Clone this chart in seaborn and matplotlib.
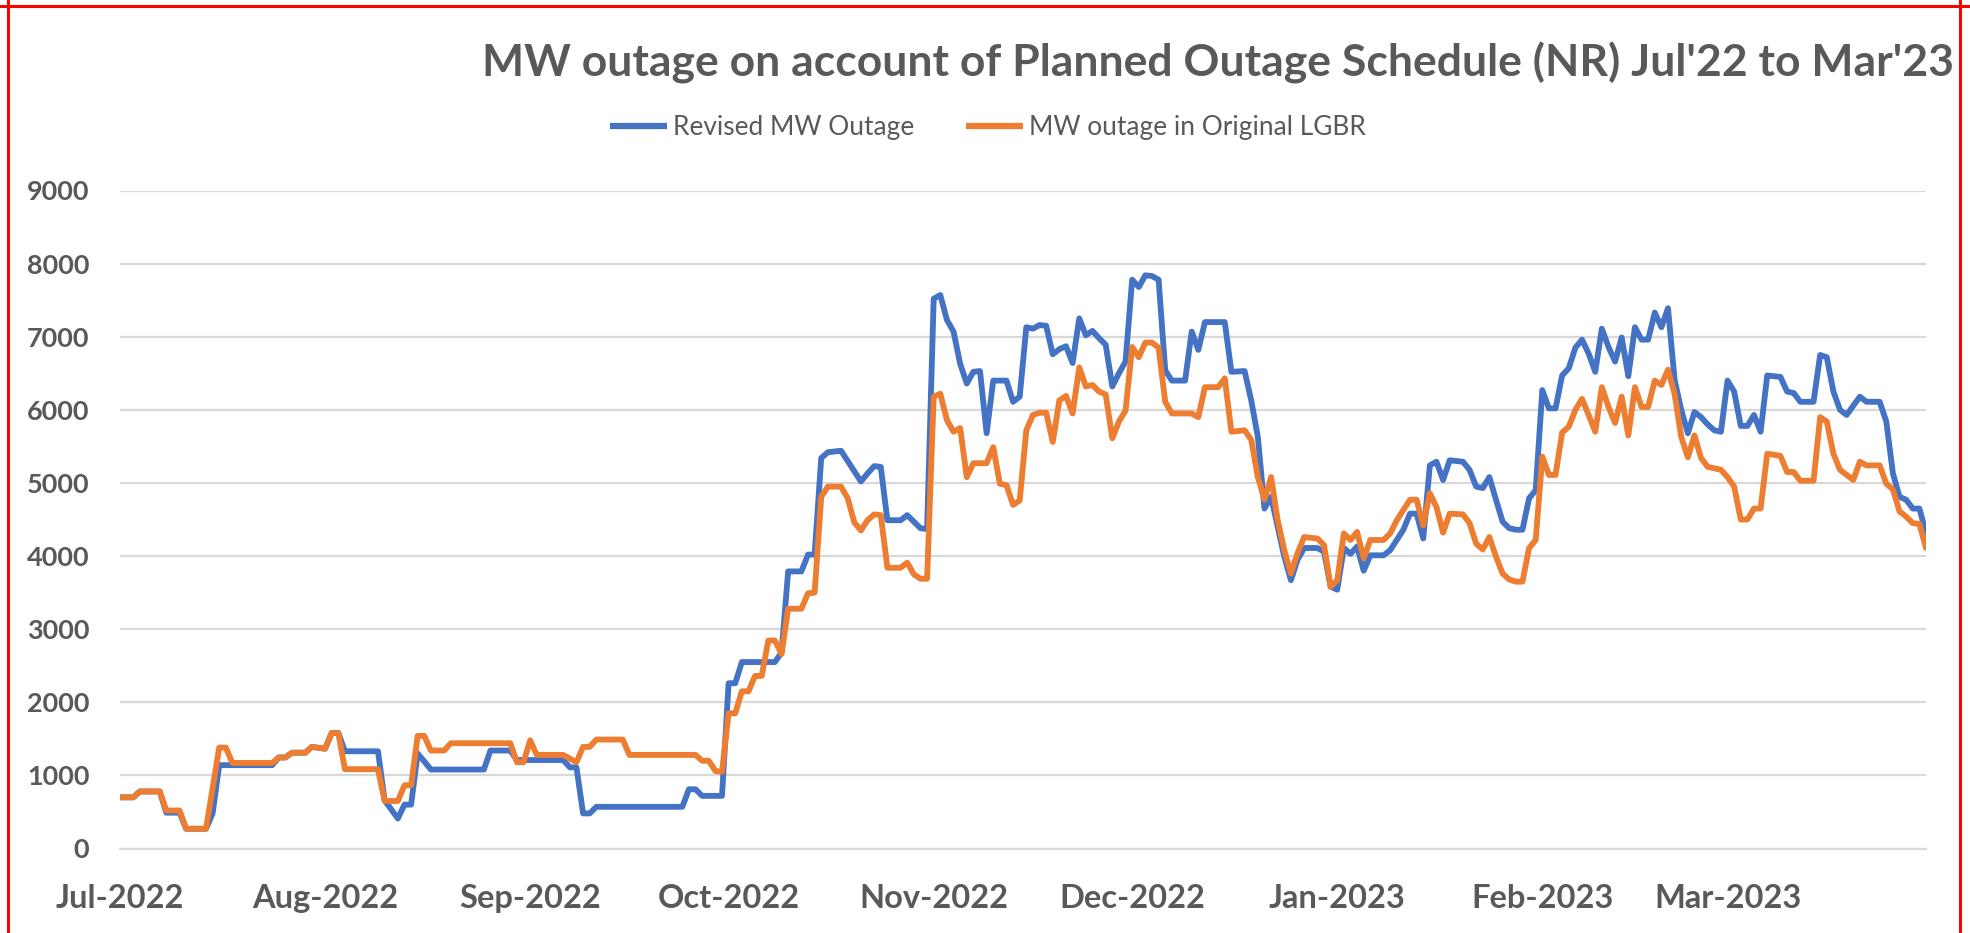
import numpy as np
import pandas as pd
import matplotlib
matplotlib.use("Agg")
import matplotlib.pyplot as plt
import seaborn as sns
from matplotlib.lines import Line2D

# ---------------- data ----------------
start_date = "2022-07-01"
series_names = ["Revised MW Outage", "MW outage in Original LGBR"]
series_colors = ["#4472C4", "#ED7D31"]

rev_day = [0, 2, 3, 6, 7, 9, 10, 13, 14, 15, 23, 24, 25, 26, 28, 29, 31, 32, 33, 34,
           39, 40, 42, 43, 44, 45, 47, 55, 56, 59, 60, 67, 68, 69, 70, 71, 72, 85, 86, 87,
           88, 91, 92, 93, 94, 99, 100, 101, 103, 104, 105, 106, 107, 109, 112, 113, 114, 115, 116, 118,
           119, 121, 122, 123, 124, 125, 126, 127, 128, 129, 130, 131, 132, 134, 135, 136, 137, 138, 139, 140,
           141, 142, 143, 144, 145, 146, 147, 148, 149, 150, 151, 152, 153, 154, 155, 156, 157, 158, 159, 161,
           162, 163, 164, 167, 168, 170, 171, 172, 173, 174, 175, 176, 177, 178, 179, 181, 182, 183, 184, 185,
           186, 187, 188, 189, 191, 192, 193, 194, 195, 196, 197, 198, 199, 200, 201, 203, 204, 205, 206, 207,
           208, 209, 210, 211, 212, 213, 214, 215, 216, 217, 218, 219, 220, 221, 222, 223, 224, 225, 226, 227,
           228, 229, 230, 231, 232, 233, 234, 235, 236, 237, 238, 239, 240, 241, 242, 243, 244, 245, 246, 247,
           248, 249, 251, 252, 253, 254, 256, 257, 258, 259, 260, 261, 263, 264, 266, 267, 268, 269, 270, 271,
           272, 273]
rev_mw = [700, 700, 780, 780, 490, 490, 270, 270, 480, 1140, 1140, 1245, 1245, 1310, 1310, 1390, 1365, 1580, 1580, 1330,
          1330, 660, 410, 600, 600, 1300, 1080, 1080, 1340, 1340, 1210, 1210, 1110, 1110, 480, 480, 570, 570, 810, 810,
          720, 720, 2260, 2260, 2550, 2550, 2680, 3790, 3790, 4020, 4020, 5340, 5420, 5440, 5020, 5130, 5230, 5220, 4490, 4490,
          4560, 4380, 4370, 7520, 7570, 7230, 7070, 6630, 6360, 6520, 6530, 5680, 6400, 6400, 6110, 6180, 7130, 7110, 7160, 7150,
          6760, 6830, 6870, 6640, 7250, 7020, 7080, 6980, 6890, 6320, 6500, 6660, 7780, 7680, 7840, 7830, 7780, 6540, 6400, 6400,
          7070, 6820, 7200, 7200, 6520, 6530, 6130, 5630, 4650, 4810, 4400, 3990, 3670, 3950, 4110, 4110, 4060, 3580, 3540, 4110,
          4030, 4130, 3800, 4010, 4010, 4080, 4220, 4360, 4580, 4580, 4240, 5240, 5290, 5040, 5310, 5290, 5180, 4950, 4930, 5080,
          4770, 4470, 4380, 4360, 4360, 4790, 4900, 6270, 6020, 6020, 6470, 6570, 6850, 6960, 6770, 6520, 7110, 6860, 6660, 6990,
          6460, 7130, 6960, 6960, 7330, 7130, 7390, 6410, 6000, 5680, 5970, 5900, 5800, 5720, 5700, 6400, 6250, 5780, 5780, 5930,
          5700, 6470, 6450, 6250, 6230, 6110, 6110, 6750, 6720, 6250, 6000, 5930, 6180, 6110, 6110, 5840, 5130, 4810, 4770, 4650,
          4650, 4320]

org_day = [0, 2, 3, 6, 7, 9, 10, 13, 15, 16, 17, 23, 24, 25, 26, 28, 29, 31, 32, 33,
           34, 39, 40, 42, 43, 44, 45, 46, 47, 49, 50, 59, 60, 61, 62, 63, 67, 69, 70, 71,
           72, 76, 77, 87, 88, 89, 90, 91, 92, 93, 94, 95, 96, 97, 98, 99, 100, 101, 103, 104,
           105, 106, 107, 109, 110, 111, 112, 113, 114, 115, 116, 118, 119, 120, 121, 122, 123, 124, 125, 126,
           127, 128, 129, 131, 132, 133, 134, 135, 136, 137, 138, 139, 140, 141, 142, 143, 144, 145, 146, 147,
           148, 149, 150, 151, 152, 153, 154, 155, 156, 157, 158, 159, 162, 163, 164, 166, 167, 168, 170, 171,
           172, 173, 174, 175, 176, 177, 178, 179, 181, 182, 183, 184, 185, 186, 187, 188, 189, 191, 192, 193,
           195, 196, 197, 198, 199, 200, 201, 203, 204, 205, 206, 207, 208, 209, 210, 211, 212, 213, 214, 215,
           216, 217, 218, 219, 220, 221, 222, 223, 224, 225, 226, 227, 228, 229, 230, 231, 232, 233, 234, 235,
           236, 237, 238, 239, 240, 241, 242, 243, 244, 245, 246, 247, 248, 249, 251, 252, 253, 254, 256, 257,
           258, 259, 260, 262, 263, 264, 266, 267, 268, 269, 270, 271, 272, 273]
org_mw = [700, 700, 780, 780, 520, 520, 270, 270, 1380, 1380, 1170, 1170, 1245, 1245, 1310, 1310, 1390, 1365, 1580, 1580,
          1085, 1085, 650, 650, 865, 865, 1540, 1540, 1340, 1340, 1440, 1440, 1180, 1180, 1480, 1280, 1280, 1180, 1390, 1390,
          1490, 1490, 1280, 1280, 1200, 1200, 1060, 1050, 1850, 1850, 2150, 2150, 2360, 2360, 2845, 2845, 2660, 3280, 3280, 3490,
          3500, 4810, 4950, 4950, 4790, 4460, 4350, 4490, 4570, 4560, 3840, 3840, 3910, 3750, 3690, 3690, 6180, 6220, 5860, 5700,
          5750, 5080, 5270, 5270, 5490, 4990, 4970, 4700, 4760, 5720, 5930, 5960, 5960, 5560, 6130, 6190, 5950, 6580, 6320, 6340,
          6250, 6210, 5610, 5840, 5990, 6860, 6720, 6920, 6920, 6850, 6110, 5950, 5950, 5900, 6310, 6310, 6430, 5700, 5720, 5590,
          5080, 4770, 5080, 4490, 4080, 3760, 4040, 4260, 4240, 4150, 3580, 3670, 4310, 4220, 4330, 3970, 4220, 4220, 4310, 4490,
          4770, 4770, 4420, 4860, 4670, 4320, 4580, 4570, 4450, 4170, 4090, 4260, 3990, 3760, 3680, 3650, 3650, 4110, 4220, 5360,
          5110, 5110, 5690, 5770, 6000, 6150, 5930, 5700, 6310, 6040, 5820, 6180, 5650, 6310, 6040, 6040, 6400, 6340, 6550, 6220,
          5630, 5350, 5650, 5340, 5220, 5200, 5180, 5080, 4950, 4500, 4500, 4650, 4650, 5400, 5370, 5150, 5150, 5030, 5030, 5900,
          5840, 5400, 5180, 5040, 5290, 5240, 5240, 4990, 4910, 4610, 4540, 4450, 4440, 4110]

tick_dates = ["2022-07-01", "2022-08-01", "2022-09-01", "2022-10-01", "2022-11-01",
              "2022-12-01", "2023-01-01", "2023-02-01", "2023-03-01"]
tick_labels = ["Jul-2022", "Aug-2022", "Sep-2022", "Oct-2022", "Nov-2022",
               "Dec-2022", "Jan-2023", "Feb-2023", "Mar-2023"]
y_ticks = [0, 1000, 2000, 3000, 4000, 5000, 6000, 7000, 8000, 9000]
title_text = "MW outage on account of Planned Outage Schedule (NR) Jul'22 to Mar'23"

# ---------------- frame ----------------
base = pd.Timestamp(start_date)
df = pd.concat([
    pd.DataFrame({"date": base + pd.to_timedelta(rev_day, unit="D"), "MW": rev_mw, "series": series_names[0]}),
    pd.DataFrame({"date": base + pd.to_timedelta(org_day, unit="D"), "MW": org_mw, "series": series_names[1]}),
], ignore_index=True)

sns.set_theme(style="white")
plt.rcParams["font.family"] = ["Lato", "DejaVu Sans"]
TXT = "#595959"
GRID = "#d9d9d9"

W, H = 1970, 933
fig = plt.figure(figsize=(W / 100, H / 100), dpi=100)
fig.patch.set_facecolor("white")
renderer = fig.canvas.get_renderer()


def fit_size(s, target_px, weight="normal", size0=20.0):
    t = fig.text(0, 0, s, fontsize=size0, fontweight=weight)
    w = t.get_window_extent(renderer).width
    t.remove()
    return size0 * target_px / w


ax_l, ax_r, ax_b, ax_t = 120, 1926, 848.5, 190.5
ax = fig.add_axes([ax_l / W, (H - ax_b) / H, (ax_r - ax_l) / W, (ax_b - ax_t) / H])

palette = dict(zip(series_names, series_colors))
sns.lineplot(data=df, x="date", y="MW", hue="series", hue_order=series_names,
             palette=palette, linewidth=4.2, estimator=None, legend=False, ax=ax)
for ln in ax.lines:
    ln.set_solid_joinstyle("round")
    ln.set_solid_capstyle("round")

ax.set_xlim(base, base + pd.Timedelta(days=273))
ax.set_ylim(0, 9000)

ytick_fs = fit_size("9000", 63, "bold")
xtick_fs = fit_size("Jul-2022", 128, "bold")
ax.set_yticks(y_ticks, labels=[str(v) for v in y_ticks], fontweight="bold",
              fontsize=ytick_fs, color=TXT)
ax.set_xticks(pd.to_datetime(tick_dates), labels=tick_labels, fontweight="bold",
              fontsize=xtick_fs, color=TXT)
ax.set_xlabel("")
ax.set_ylabel("")

ax.yaxis.grid(True, color=GRID, linewidth=1.6)
ax.xaxis.grid(False)
ax.set_axisbelow(True)
for side in ["left", "top", "right"]:
    ax.spines[side].set_visible(False)
ax.spines["bottom"].set_color(GRID)
ax.spines["bottom"].set_linewidth(1.6)
ax.tick_params(axis="x", direction="out", length=7.5, width=1.6, color=GRID, pad=18)
ax.tick_params(axis="y", length=0, pad=22)

# title
title_fs = fit_size(title_text, 1467, "bold")
fig.text(1217.5 / W, (H - 76) / H, title_text, ha="center", va="baseline",
         fontsize=title_fs, fontweight="bold", color=TXT)

# legend
leg_fs = fit_size(series_names[0], 241, "normal")
fs_px = leg_fs * 100 / 72
handles = [Line2D([], [], color=c, lw=4.5, solid_capstyle="butt") for c in series_colors]
fig.legend(handles, series_names, loc="center", bbox_to_anchor=(988 / W, (H - 128) / H),
           ncol=2, frameon=False, fontsize=leg_fs, labelcolor=TXT,
           handlelength=57 / fs_px, handletextpad=6 / fs_px, columnspacing=52 / fs_px,
           borderpad=0, borderaxespad=0)

# red frame around the picture
for xs, ys in [([0, 1], [(H - 6) / H] * 2), ([8 / W] * 2, [0, 1]), ([1960 / W] * 2, [0, 1])]:
    fig.add_artist(Line2D(xs, ys, transform=fig.transFigure, color="#ff0000", lw=2.2))

fig.savefig("out.png", dpi=100, facecolor="white")
